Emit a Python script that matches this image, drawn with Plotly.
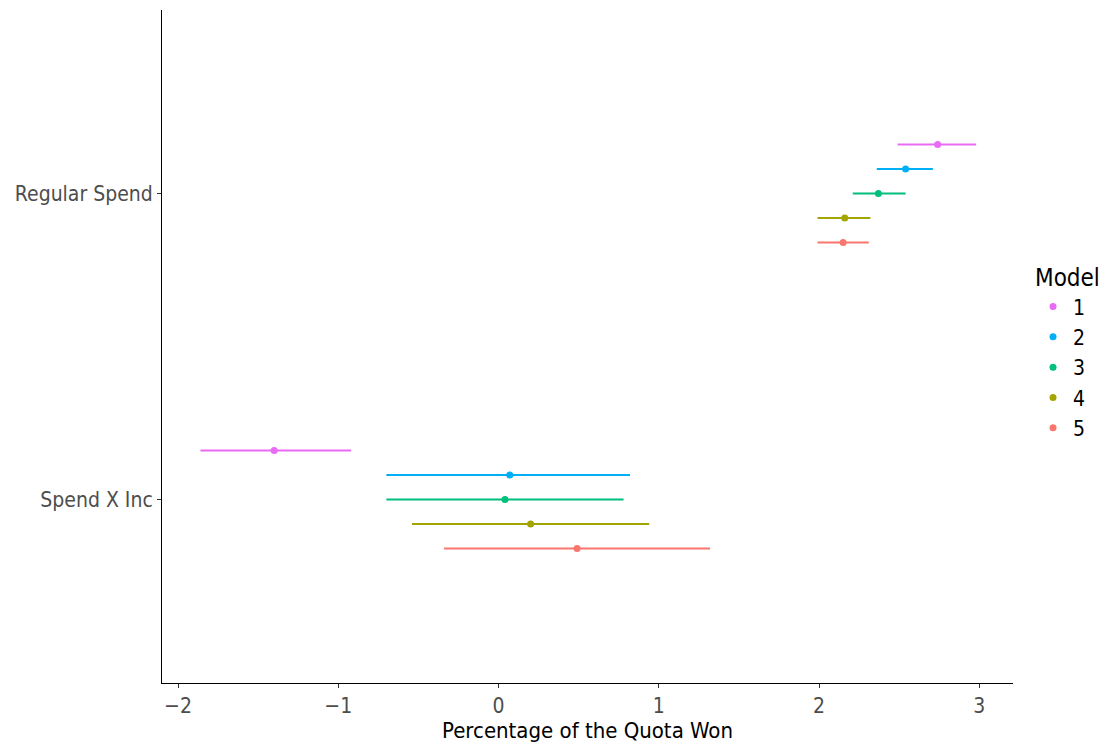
import plotly.graph_objects as go

# Coefficient estimates with interval bounds, per model and term
terms = ["Spend X Inc", "Regular Spend"]
models = ["1", "2", "3", "4", "5"]
colors = ["#E76BF3", "#00B0F6", "#00BF7D", "#A3A500", "#F8766D"]

estimate = {
    "Regular Spend": [2.74, 2.54, 2.37, 2.16, 2.15],
    "Spend X Inc": [-1.40, 0.07, 0.04, 0.20, 0.49],
}
lower = {
    "Regular Spend": [2.49, 2.36, 2.21, 1.99, 1.99],
    "Spend X Inc": [-1.86, -0.70, -0.70, -0.54, -0.34],
}
upper = {
    "Regular Spend": [2.98, 2.71, 2.54, 2.32, 2.31],
    "Spend X Inc": [-0.92, 0.82, 0.78, 0.94, 1.32],
}

FONT = "DejaVu Sans Condensed, Liberation Sans Narrow, Arial Narrow, sans-serif"
dodge = 0.08

fig = go.Figure()
for i, (m, c) in enumerate(zip(models, colors)):
    xs, ys, ep, em = [], [], [], []
    for t_idx, t in enumerate(terms):
        x = estimate[t][i]
        xs.append(x)
        ys.append(t_idx + 1 + (2 - i) * dodge)
        ep.append(upper[t][i] - x)
        em.append(x - lower[t][i])
    fig.add_trace(go.Scatter(
        x=xs, y=ys, mode="markers", name=m,
        marker=dict(color=c, size=7),
        error_x=dict(type="data", symmetric=False, array=ep, arrayminus=em,
                     color=c, thickness=2, width=0),
    ))

fig.update_layout(
    width=1109, height=744,
    margin=dict(l=162, r=96, t=10, b=61, autoexpand=False),
    plot_bgcolor="white", paper_bgcolor="white",
    font=dict(family=FONT, color="black"),
    legend=dict(
        title=dict(text="Model", font=dict(size=24, color="black")),
        font=dict(size=21, color="black"),
        xref="container", yref="container",
        x=0.9315, xanchor="left", y=0.657, yanchor="top",
        tracegroupgap=0,
    ),
    xaxis=dict(
        range=[-2.1, 3.21], tickvals=[-2, -1, 0, 1, 2, 3],
        ticktext=["\u22122", "\u22121", "0", "1", "2", "3"],
        showgrid=False, zeroline=False, showline=True, linecolor="black", linewidth=1,
        ticks="outside", ticklen=4, tickcolor="#333333", automargin=False,
        tickfont=dict(size=21, color="#4d4d4d"),
        title=dict(text="Percentage of the Quota Won", font=dict(size=22, color="black"), standoff=1),
    ),
    yaxis=dict(
        range=[0.4, 2.6], tickvals=[1, 2], ticktext=terms,
        showgrid=False, zeroline=False, showline=True, linecolor="black", linewidth=1,
        ticks="outside", ticklen=4, tickcolor="#333333", automargin=False,
        tickfont=dict(size=21, color="#4d4d4d"),
    ),
)

fig.write_html("out.html")
